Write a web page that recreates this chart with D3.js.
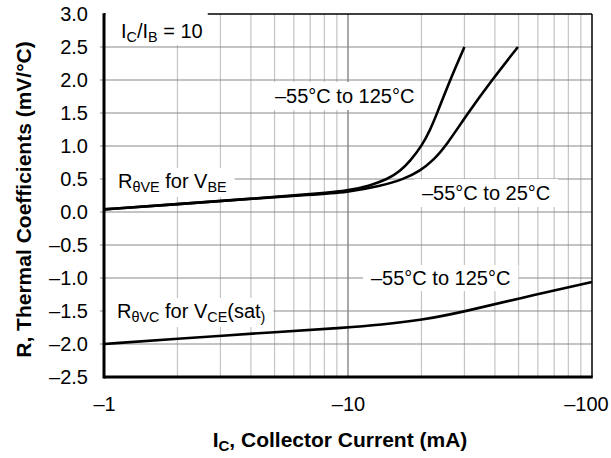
<!DOCTYPE html>
<html><head><meta charset="utf-8">
<script src="https://cdn.jsdelivr.net/npm/d3@7"></script>
<style>
body{margin:0;background:#fff}
text{font-family:"Liberation Sans",Arial,Helvetica,sans-serif;fill:#000}
</style>
</head><body>
<svg id="c" width="611" height="458"></svg>
<script>
// ---- data ----
const xTickValues = [1, 10, 100];
const xTickLabels = ["–1", "–10", "–100"];
const yTickValues = [-2.5, -2.0, -1.5, -1.0, -0.5, 0.0, 0.5, 1.0, 1.5, 2.0, 2.5, 3.0];
const yTickLabels = ["–2.5", "–2.0", "–1.5", "–1.0", "–0.5", "0.0", "0.5", "1.0", "1.5", "2.0", "2.5", "3.0"];
// R_thetaVE for VBE, -55°C to 125°C  [Ic (mA, magnitude), mV/°C]
const vbe125 = [[1,0.04],[2,0.12],[4,0.2],[7,0.27],[10,0.32],[12.3,0.4],[14.6,0.5],[16.35,0.62],[17.95,0.77],[20.05,1.0],[21.7,1.24],[23.2,1.5],[26.2,2.0],[30,2.5]];
// R_thetaVE for VBE, -55°C to 25°C
const vbe25 = [[1,0.04],[2,0.12],[4,0.2],[7,0.26],[10,0.3],[13.5,0.39],[17,0.5],[19.7,0.62],[22.3,0.78],[25.2,1.0],[31,1.5],[38.9,2.0],[49.7,2.5]];
// R_thetaVC for VCE(sat), -55°C to 125°C
const vce = [[1,-2.0],[2,-1.92],[5,-1.82],[10,-1.75],[13.5,-1.71],[20,-1.64],[30,-1.51],[50,-1.31],[100,-1.06]];

// ---- layout ----
const L = 104, R = 592, T = 14, B = 377;
const svg = d3.select("#c");
const x = d3.scaleLog().domain([1, 100]).range([L, R]);
const y = d3.scaleLinear().domain([-2.5, 3.0]).range([B, T]);

// gridlines
const minor = [];
[1, 10].forEach(d => { for (let k = 2; k <= 9; k++) minor.push(d * k); });
svg.append("g").selectAll("line").data(minor).join("line")
  .attr("x1", d => x(d)).attr("x2", d => x(d)).attr("y1", T).attr("y2", B)
  .attr("stroke", "#c4c4c4").attr("stroke-width", 1.2);
svg.append("g").selectAll("line").data([10]).join("line")
  .attr("x1", d => x(d)).attr("x2", d => x(d)).attr("y1", T).attr("y2", B)
  .attr("stroke", "#7a7a7a").attr("stroke-width", 1.3);
svg.append("g").selectAll("line").data(yTickValues.filter(v => v > -2.5 && v < 3)).join("line")
  .attr("x1", L - 4).attr("x2", R).attr("y1", d => y(d)).attr("y2", d => y(d))
  .attr("stroke", "#8a8a8a").attr("stroke-width", 1.2);

// axes via d3 axis (labels only)
const yAxis = d3.axisLeft(y).tickValues(yTickValues).tickFormat((d, i) => yTickLabels[i]).tickSize(0).tickPadding(16);
const gy = svg.append("g").attr("transform", `translate(${L},0)`).call(yAxis);
gy.select(".domain").remove();
gy.selectAll("text").style("font-size", "20px").attr("font-family", null);
const xAxis = d3.axisBottom(x).tickValues(xTickValues).tickFormat((d, i) => xTickLabels[i]).tickSize(0).tickPadding(20);
const gx = svg.append("g").attr("transform", `translate(0,${B})`).call(xAxis);
gx.select(".domain").remove();
gx.selectAll("text").style("font-size", "20px").attr("font-family", null);
gx.selectAll(".tick").filter(d => d === 100).select("text").attr("dx", -6);

// frame
svg.append("line").attr("x1", L).attr("x2", R).attr("y1", T).attr("y2", T).attr("stroke", "#000").attr("stroke-width", 1.5);
svg.append("line").attr("x1", R).attr("x2", R).attr("y1", T).attr("y2", B).attr("stroke", "#000").attr("stroke-width", 1.5);

// labels with white boxes
function label(px, py, parts, size, box) {
  const g = svg.append("g");
  const rect = g.append("rect").attr("fill", "#fff");
  const t = g.append("text").attr("x", px).attr("y", py).style("font-size", size + "px");
  let shifted = false;
  parts.forEach(p => {
    const ts = t.append("tspan").text(p.t);
    if (p.sub) { ts.style("font-size", (size * 0.72) + "px").attr("dy", shifted ? 0 : 4); shifted = true; }
    else { if (shifted) ts.attr("dy", -4); shifted = false; }
  });
  const bb = t.node().getBBox();
  const x0 = box.left !== undefined ? box.left : bb.x - box.px;
  const x1 = bb.x + bb.width + box.px;
  rect.attr("x", x0).attr("y", bb.y - box.py + (box.dy || 0)).attr("width", x1 - x0).attr("height", bb.height + 2 * box.py);
  return g;
}
label(121, 38, [{t:"I"},{t:"C",sub:1},{t:"/I"},{t:"B",sub:1},{t:" = 10"}], 20, {left: L + 1.5, px: 5, py: 4, dy: -4});
label(275, 103, [{t:"–55°C to 125°C"}], 20, {px: 6, py: 3});
label(422, 200, [{t:"–55°C to 25°C"}], 20, {px: 8, py: 3});
label(118, 188, [{t:"R"},{t:"θVE",sub:1},{t:" for V"},{t:"BE",sub:1}], 20, {left: L + 1.5, px: 8, py: 2});
label(117, 318, [{t:"R"},{t:"θVC",sub:1},{t:" for V"},{t:"CE",sub:1},{t:"(sat"},{t:")",sub:1}], 20, {left: L + 1.5, px: 8, py: 2});
label(371, 285, [{t:"–55°C to 125°C"}], 20, {px: 8, py: 2});

// curves
const line = d3.line().x(d => x(d[0])).y(d => y(d[1])).curve(d3.curveBasis);
[vbe125, vbe25, vce].forEach(s => {
  svg.append("path").datum(s).attr("d", line).attr("fill", "none").attr("stroke", "#000")
    .attr("stroke-width", 2.6).attr("stroke-linejoin", "round");
});

// thick left & bottom axes
svg.append("line").attr("x1", L).attr("x2", L).attr("y1", T - 0.75).attr("y2", B + 1.5).attr("stroke", "#000").attr("stroke-width", 3);
svg.append("line").attr("x1", L).attr("x2", R + 0.75).attr("y1", B).attr("y2", B).attr("stroke", "#000").attr("stroke-width", 3);

// axis titles
const xt = svg.append("text").attr("x", (L + R) / 2 - 8).attr("y", 447).attr("text-anchor", "middle")
  .style("font-size", "21px").style("font-weight", "bold");
xt.append("tspan").text("I");
xt.append("tspan").text("C").style("font-size", "15px").attr("dy", 4);
xt.append("tspan").text(", Collector Current (mA)").attr("dy", -4);
svg.append("text").attr("transform", `translate(31,${(T + B) / 2 + 4}) rotate(-90)`).attr("text-anchor", "middle")
  .style("font-size", "21px").style("font-weight", "bold").text("R, Thermal Coefficients (mV/°C)");
</script>
</body></html>
